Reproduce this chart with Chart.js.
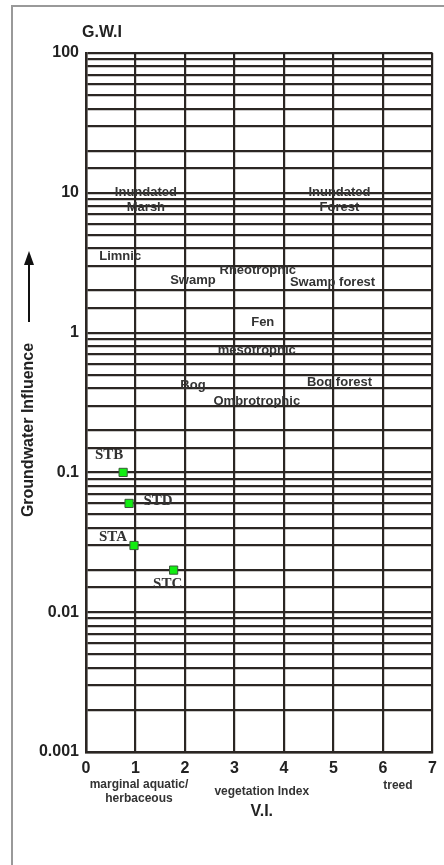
<!DOCTYPE html>
<html>
<head>
<meta charset="utf-8">
<script src="https://cdn.jsdelivr.net/npm/chart.js@4.4.1/dist/chart.umd.min.js"></script>
<style>
html,body{margin:0;padding:0;background:#fff;}
#wrap{width:444px;height:865px;position:relative;}
</style>
</head>
<body>
<div id="wrap"><canvas id="c" width="444" height="865"></canvas></div>
<script>
// ---- data ----
const siteNames = ['STB', 'STD', 'STA', 'STC'];
const siteVI = [0.75, 0.87, 0.97, 1.77];
const siteGWI = [0.1, 0.06, 0.03, 0.02];

const xTickValues = [0, 1, 2, 3, 4, 5, 6, 7];
const yDecades = [0.001, 0.01, 0.1, 1, 10, 100];
const yDecadeLabels = ['0.001', '0.01', '0.1', '1', '10', '100'];

const zoneNames = ['Inundated', 'Marsh', 'Inundated', 'Forest', 'Limnic', 'Swamp', 'Rheotrophic', 'Swamp forest', 'Fen', 'mesotrophic', 'Bog', 'Bog forest', 'Ombrotrophic'];
const zoneVI = [1.21, 1.21, 5.12, 5.12, 0.69, 2.16, 3.47, 4.98, 3.57, 3.45, 2.16, 5.12, 3.45];
const zoneGWI = [10, 7.8, 10, 7.8, 3.5, 2.35, 2.8, 2.27, 1.19, 0.75, 0.42, 0.44, 0.32];

const xCategoryNotes = [['marginal aquatic/', 'herbaceous'], ['vegetation Index'], ['treed']];
const xCategoryPos = [1.07, 3.55, 6.3];

// label offsets (style) for site labels
const siteLabelOffsets = [[-14, -17], [29, -2], [-21, -8], [-6, 14]];

const points = siteVI.map((v, i) => ({x: v, y: siteGWI[i]}));

const SANS = '"Liberation Sans", Arial, sans-serif';
const SERIF = '"Liberation Serif", "Times New Roman", serif';

const decorPlugin = {
  id: 'decor',
  beforeDraw(chart) {
    const ctx = chart.ctx;
    ctx.save();
    ctx.fillStyle = '#fff';
    ctx.fillRect(0, 0, chart.width, chart.height);
    ctx.strokeStyle = '#999';
    ctx.lineWidth = 2;
    ctx.beginPath();
    ctx.moveTo(12, 865);
    ctx.lineTo(12, 6);
    ctx.lineTo(444, 6);
    ctx.stroke();
    ctx.restore();
  },
  afterDatasetsDraw(chart) {
    const ctx = chart.ctx;
    const xs = chart.scales.x, ys = chart.scales.y;
    ctx.save();
    // zone annotations
    ctx.font = 'bold 13px ' + SANS;
    ctx.fillStyle = '#333';
    ctx.textAlign = 'center';
    ctx.textBaseline = 'middle';
    zoneNames.forEach((n, i) => {
      ctx.fillText(n, xs.getPixelForValue(zoneVI[i]), ys.getPixelForValue(zoneGWI[i]));
    });
    // site labels
    ctx.font = 'bold 15px ' + SERIF;
    ctx.fillStyle = '#333';
    siteNames.forEach((n, i) => {
      const px = xs.getPixelForValue(siteVI[i]);
      const py = ys.getPixelForValue(siteGWI[i]);
      ctx.fillText(n, px + siteLabelOffsets[i][0], py + siteLabelOffsets[i][1]);
    });
    // x category notes
    ctx.font = 'bold 12px ' + SANS;
    xCategoryNotes.forEach((lines, i) => {
      const px = xs.getPixelForValue(xCategoryPos[i]);
      const baseY = lines.length === 1 ? (i === 1 ? 792 : 786) : 785;
      lines.forEach((t, j) => ctx.fillText(t, px, baseY + j * 14));
    });
    // axis titles
    ctx.font = 'bold 16px ' + SANS;
    ctx.fillStyle = '#222';
    ctx.fillText('V.I.', xs.getPixelForValue(3.55), 812);
    ctx.textAlign = 'left';
    ctx.fillText('G.W.I', 82, 33);
    // y title rotated
    ctx.save();
    ctx.translate(29, 430);
    ctx.rotate(-Math.PI / 2);
    ctx.textAlign = 'center';
    ctx.fillText('Groundwater Influence', 0, 0);
    ctx.restore();
    // arrow
    ctx.strokeStyle = '#111';
    ctx.fillStyle = '#111';
    ctx.lineWidth = 2;
    ctx.beginPath();
    ctx.moveTo(29, 322);
    ctx.lineTo(29, 262);
    ctx.stroke();
    ctx.beginPath();
    ctx.moveTo(29, 251);
    ctx.lineTo(24, 265);
    ctx.lineTo(34, 265);
    ctx.closePath();
    ctx.fill();
    ctx.restore();
  }
};

new Chart(document.getElementById('c'), {
  type: 'scatter',
  data: {
    datasets: [{
      data: points,
      pointStyle: 'rect',
      pointRadius: 5.8,
      pointHoverRadius: 5.8,
      backgroundColor: '#11ee11',
      borderColor: '#3a5a3a',
      borderWidth: 1
    }]
  },
  options: {
    responsive: false,
    animation: false,
    devicePixelRatio: 1,
    layout: {padding: {top: 53, right: 11, left: 0, bottom: 0}},
    plugins: {legend: {display: false}, tooltip: {enabled: false}},
    scales: {
      x: {
        type: 'linear',
        min: 0, max: 7,
        afterFit(s) { s.height = 113; },
        afterBuildTicks(s) { s.ticks = xTickValues.map(v => ({value: v})); },
        grid: {color: '#2b2623', lineWidth: 2.2, drawTicks: false},
        border: {color: '#2b2623', width: 2.5},
        ticks: {
          padding: 7,
          color: '#222',
          font: {family: SANS, size: 16, weight: 'bold'},
          callback: v => String(v)
        }
      },
      y: {
        type: 'logarithmic',
        min: 0.001, max: 100,
        afterFit(s) { s.width = 86; },
        grid: {color: '#2b2623', lineWidth: 2.2, drawTicks: false},
        border: {color: '#2b2623', width: 2.5},
        ticks: {
          autoSkip: false,
          padding: 7,
          color: '#222',
          font: {family: SANS, size: 16, weight: 'bold'},
          callback: function(v) {
            for (let i = 0; i < yDecades.length; i++) {
              if (Math.abs(v - yDecades[i]) / yDecades[i] < 1e-6) return yDecadeLabels[i];
            }
            return '';
          }
        }
      }
    }
  },
  plugins: [decorPlugin]
});
</script>
</body>
</html>
